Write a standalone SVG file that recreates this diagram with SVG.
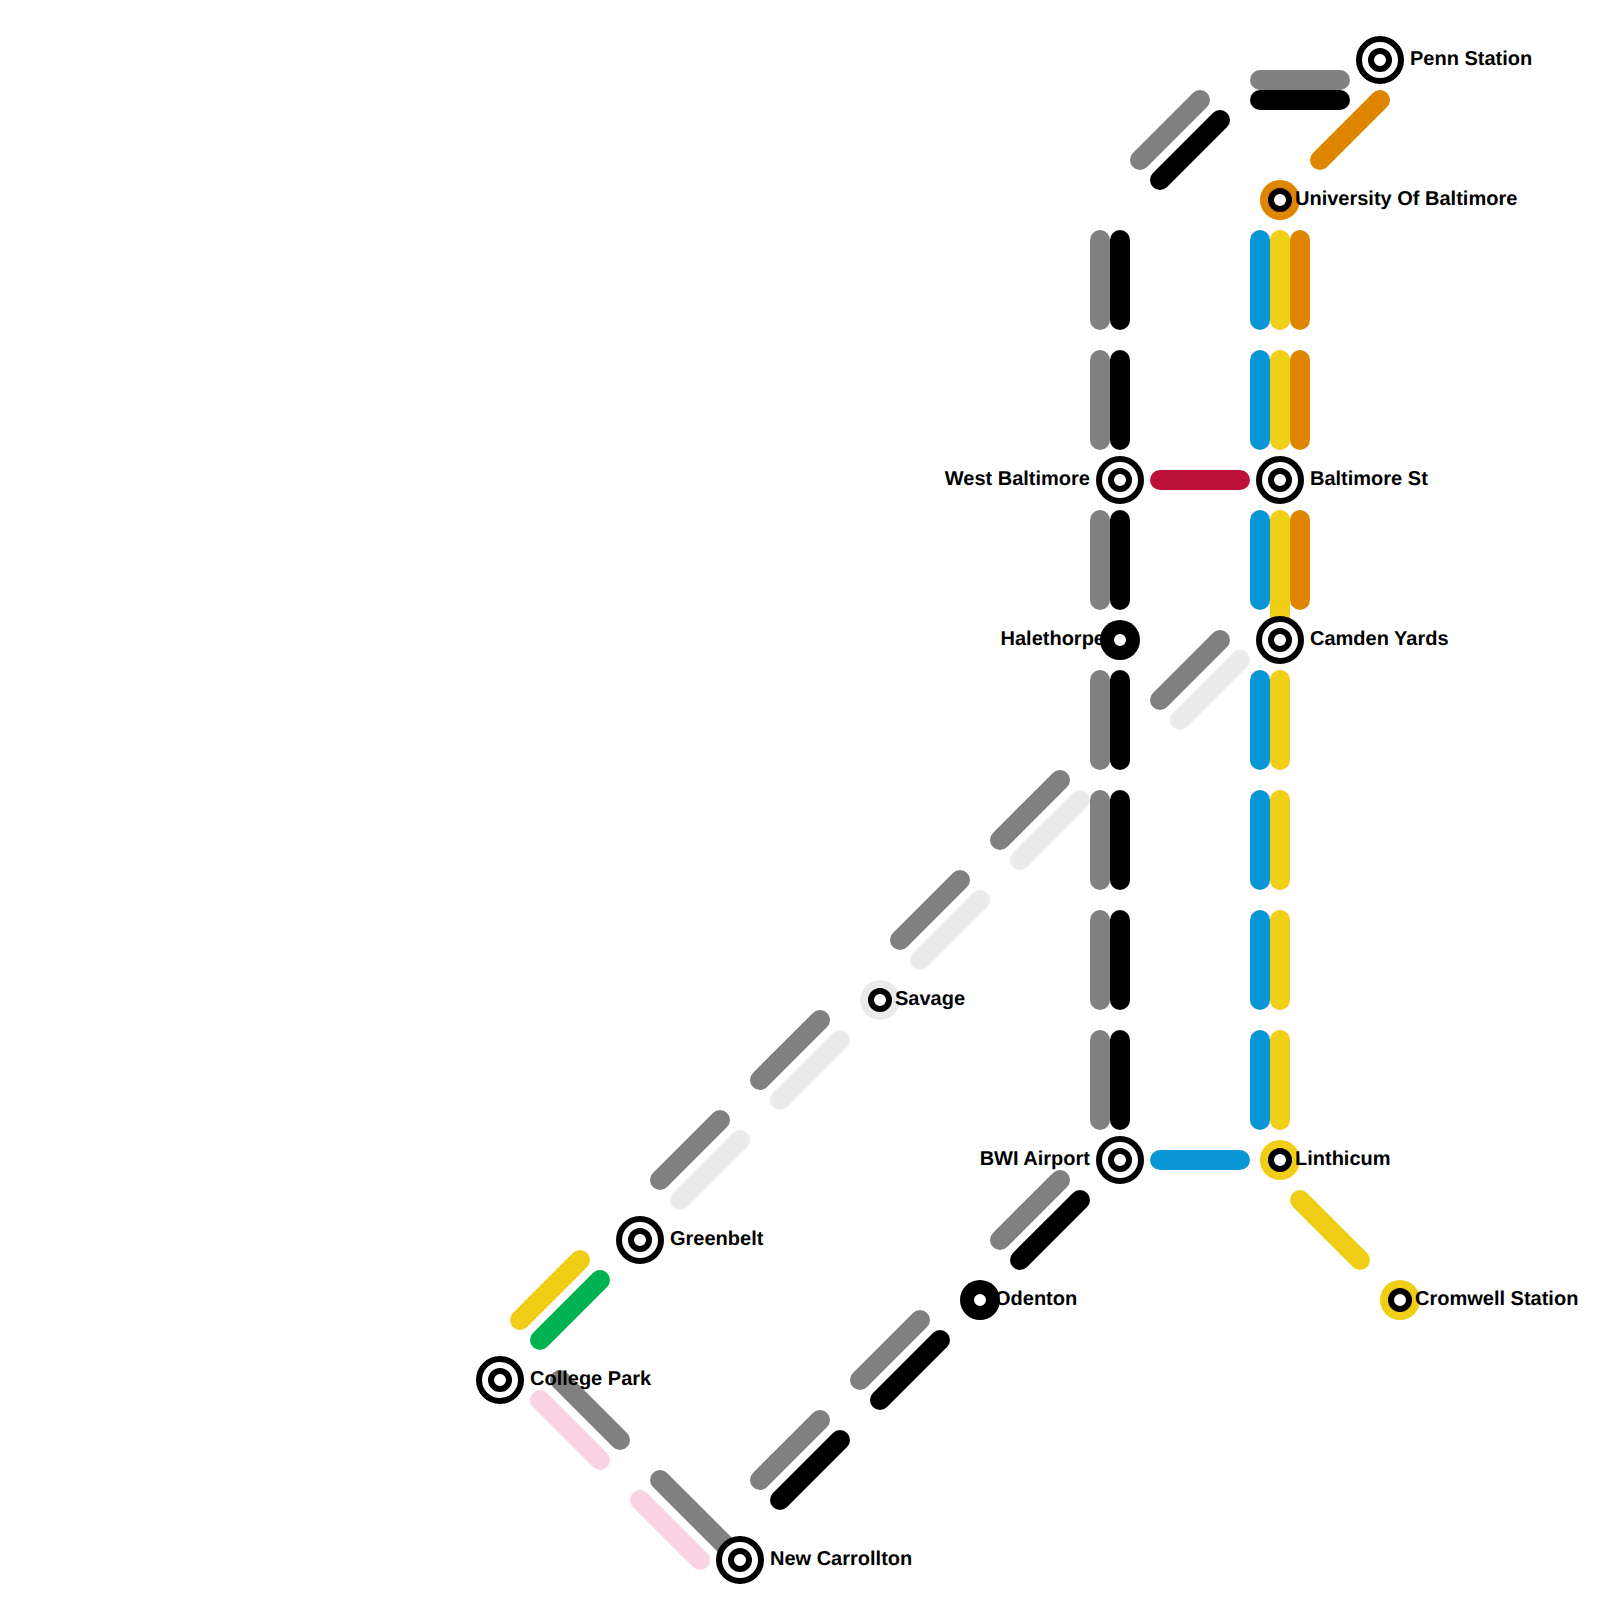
<svg xmlns="http://www.w3.org/2000/svg" width="1600" height="1600" viewBox="0 0 1600 1600">
<style>
line{stroke-width:20;stroke-linecap:round;fill:none}
.gy{stroke:#808080}.bk{stroke:#000}.bl{stroke:#0896d7}.ye{stroke:#f0ce15}.or{stroke:#df8600}.re{stroke:#bd1038}.gr{stroke:#00b251}.pi{stroke:#f9d3e3}.lt{stroke:#ebebeb}
.o{fill:#fff;stroke:#000;stroke-width:6}
.c{fill:#fff;stroke:#000;stroke-width:6}
text{font-family:"Liberation Sans",Arial,sans-serif;font-weight:700;font-size:20px;fill:#000;text-rendering:geometricPrecision}
.e{text-anchor:end}
</style>
<rect width="1600" height="1600" fill="#fff"/>
<g id="connectors">
<line class="gy" x1="1260" y1="80" x2="1340" y2="80"/><line class="bk" x1="1260" y1="100" x2="1340" y2="100"/>
<line class="gy" x1="1140" y1="160" x2="1200" y2="100"/><line class="bk" x1="1160" y1="180" x2="1220" y2="120"/>
<line class="or" x1="1320" y1="160" x2="1380" y2="100"/>
<line class="gy" x1="1100" y1="240" x2="1100" y2="320"/><line class="bk" x1="1120" y1="240" x2="1120" y2="320"/>
<line class="gy" x1="1100" y1="360" x2="1100" y2="440"/><line class="bk" x1="1120" y1="360" x2="1120" y2="440"/>
<line class="gy" x1="1100" y1="520" x2="1100" y2="600"/><line class="bk" x1="1120" y1="520" x2="1120" y2="600"/>
<line class="gy" x1="1100" y1="680" x2="1100" y2="760"/><line class="bk" x1="1120" y1="680" x2="1120" y2="760"/>
<line class="gy" x1="1100" y1="800" x2="1100" y2="880"/><line class="bk" x1="1120" y1="800" x2="1120" y2="880"/>
<line class="gy" x1="1100" y1="920" x2="1100" y2="1000"/><line class="bk" x1="1120" y1="920" x2="1120" y2="1000"/>
<line class="gy" x1="1100" y1="1040" x2="1100" y2="1120"/><line class="bk" x1="1120" y1="1040" x2="1120" y2="1120"/>
<line class="bl" x1="1260" y1="240" x2="1260" y2="320"/><line class="ye" x1="1280" y1="240" x2="1280" y2="320"/><line class="or" x1="1300" y1="240" x2="1300" y2="320"/>
<line class="bl" x1="1260" y1="360" x2="1260" y2="440"/><line class="ye" x1="1280" y1="360" x2="1280" y2="440"/><line class="or" x1="1300" y1="360" x2="1300" y2="440"/>
<line class="bl" x1="1260" y1="520" x2="1260" y2="600"/><line class="ye" x1="1280" y1="520" x2="1280" y2="640"/><line class="or" x1="1300" y1="520" x2="1300" y2="600"/>
<line class="bl" x1="1260" y1="680" x2="1260" y2="760"/><line class="ye" x1="1280" y1="680" x2="1280" y2="760"/>
<line class="bl" x1="1260" y1="800" x2="1260" y2="880"/><line class="ye" x1="1280" y1="800" x2="1280" y2="880"/>
<line class="bl" x1="1260" y1="920" x2="1260" y2="1000"/><line class="ye" x1="1280" y1="920" x2="1280" y2="1000"/>
<line class="bl" x1="1260" y1="1040" x2="1260" y2="1120"/><line class="ye" x1="1280" y1="1040" x2="1280" y2="1120"/>
<line class="re" x1="1160" y1="480" x2="1240" y2="480"/>
<line class="bl" x1="1160" y1="1160" x2="1240" y2="1160"/>
<line class="ye" x1="1300" y1="1200" x2="1360" y2="1260"/>
<line class="gy" x1="1160" y1="700" x2="1220" y2="640"/><line class="lt" x1="1180" y1="720" x2="1240" y2="660"/>
<line class="gy" x1="1000" y1="840" x2="1060" y2="780"/><line class="lt" x1="1020" y1="860" x2="1080" y2="800"/>
<line class="gy" x1="900" y1="940" x2="960" y2="880"/><line class="lt" x1="920" y1="960" x2="980" y2="900"/>
<line class="gy" x1="760" y1="1080" x2="820" y2="1020"/><line class="lt" x1="780" y1="1100" x2="840" y2="1040"/>
<line class="gy" x1="660" y1="1180" x2="720" y2="1120"/><line class="lt" x1="680" y1="1200" x2="740" y2="1140"/>
<line class="ye" x1="520" y1="1320" x2="580" y2="1260"/><line class="gr" x1="540" y1="1340" x2="600" y2="1280"/>
<line class="gy" x1="560" y1="1380" x2="620" y2="1440"/><line class="pi" x1="540" y1="1400" x2="600" y2="1460"/>
<line class="gy" x1="660" y1="1480" x2="740" y2="1560"/><line class="pi" x1="640" y1="1500" x2="700" y2="1560"/>
<line class="gy" x1="1000" y1="1240" x2="1060" y2="1180"/><line class="bk" x1="1020" y1="1260" x2="1080" y2="1200"/>
<line class="gy" x1="860" y1="1380" x2="920" y2="1320"/><line class="bk" x1="880" y1="1400" x2="940" y2="1340"/>
<line class="gy" x1="760" y1="1480" x2="820" y2="1420"/><line class="bk" x1="780" y1="1500" x2="840" y2="1440"/>
</g>
<g id="penn-station"><circle class="o" cx="1380" cy="60" r="21"/><circle class="c" cx="1380" cy="60" r="9"/><text x="1410" y="65">Penn Station</text></g>
<g id="university-of-baltimore"><circle fill="#df8600" cx="1280" cy="200" r="20"/><circle class="c" cx="1280" cy="200" r="9"/><text x="1295" y="205">University Of Baltimore</text></g>
<g id="west-baltimore"><circle class="o" cx="1120" cy="480" r="21"/><circle class="c" cx="1120" cy="480" r="9"/><text class="e" x="1090" y="485">West Baltimore</text></g>
<g id="baltimore-st"><circle class="o" cx="1280" cy="480" r="21"/><circle class="c" cx="1280" cy="480" r="9"/><text x="1310" y="485">Baltimore St</text></g>
<g id="halethorpe"><circle fill="#000" cx="1120" cy="640" r="20"/><circle class="c" cx="1120" cy="640" r="9"/><text class="e" x="1105" y="645">Halethorpe</text></g>
<g id="camden-yards"><circle class="o" cx="1280" cy="640" r="21"/><circle class="c" cx="1280" cy="640" r="9"/><text x="1310" y="645">Camden Yards</text></g>
<g id="savage"><circle fill="#ebebeb" cx="880" cy="1000" r="20"/><circle class="c" cx="880" cy="1000" r="9"/><text x="895" y="1005">Savage</text></g>
<g id="bwi-airport"><circle class="o" cx="1120" cy="1160" r="21"/><circle class="c" cx="1120" cy="1160" r="9"/><text class="e" x="1090" y="1165">BWI Airport</text></g>
<g id="linthicum"><circle fill="#f0ce15" cx="1280" cy="1160" r="20"/><circle class="c" cx="1280" cy="1160" r="9"/><text x="1295" y="1165">Linthicum</text></g>
<g id="greenbelt"><circle class="o" cx="640" cy="1240" r="21"/><circle class="c" cx="640" cy="1240" r="9"/><text x="670" y="1245">Greenbelt</text></g>
<g id="odenton"><circle fill="#000" cx="980" cy="1300" r="20"/><circle class="c" cx="980" cy="1300" r="9"/><text x="995" y="1305">Odenton</text></g>
<g id="cromwell-station"><circle fill="#f0ce15" cx="1400" cy="1300" r="20"/><circle class="c" cx="1400" cy="1300" r="9"/><text x="1415" y="1305">Cromwell Station</text></g>
<g id="college-park"><circle class="o" cx="500" cy="1380" r="21"/><circle class="c" cx="500" cy="1380" r="9"/><text x="530" y="1385">College Park</text></g>
<g id="new-carrollton"><circle class="o" cx="740" cy="1560" r="21"/><circle class="c" cx="740" cy="1560" r="9"/><text x="770" y="1565">New Carrollton</text></g>
</svg>
